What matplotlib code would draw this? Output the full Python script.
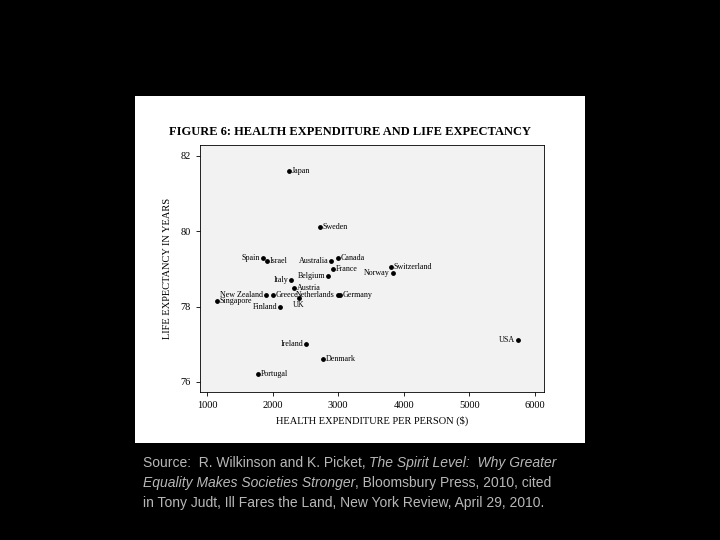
import matplotlib
matplotlib.use("Agg")
import matplotlib.pyplot as plt

countries = ["Japan","Sweden","Spain","Israel","Australia","Canada","France","Switzerland","Norway",
             "Belgium","Italy","Austria","New Zealand","Greece","Netherlands","Germany","UK","Singapore",
             "Finland","Ireland","Denmark","Portugal","USA"]
spend = [2250,2720,1850,1915,2890,3000,2920,3800,3830,2845,2280,2330,1900,2000,2990,3020,2400,1150,
         2110,2510,2770,1780,5740]
life = [81.6,80.1,79.3,79.2,79.2,79.3,79.0,79.05,78.9,78.8,78.7,78.5,78.3,78.3,78.3,78.3,78.23,78.15,
        78.0,77.0,76.6,76.2,77.1]
left_labels = {"Spain","Australia","Norway","Belgium","Italy","New Zealand","Finland","Ireland","USA","Netherlands"}
below_labels = {"UK"}
xticks = [1000,2000,3000,4000,5000,6000]
yticks = [76,78,80,82]

fig = plt.figure(figsize=(7.2,5.4), dpi=100, facecolor="black")
W, H = 720, 540
panel = fig.add_axes([135/W, 1-443/H, 450/W, 347/H])
panel.set_facecolor("white"); panel.set_xticks([]); panel.set_yticks([])
for s in panel.spines.values(): s.set_visible(False)

ax = fig.add_axes([200/W, 1-392/H, 344/W, 247/H])
ax.set_facecolor("#f2f2f2")
ax.scatter(spend, life, s=6, color="black", zorder=3)
for c, x, y in zip(countries, spend, life):
    if c in below_labels:
        ax.annotate(c, (x, y), xytext=(0,-2), textcoords="offset points", ha="center", va="top",
                    fontsize=5.8, family="Liberation Serif")
    elif c in left_labels:
        ax.annotate(c, (x, y), xytext=(-2,0), textcoords="offset points", ha="right", va="center",
                    fontsize=5.8, family="Liberation Serif")
    else:
        ax.annotate(c, (x, y), xytext=(2,0), textcoords="offset points", ha="left", va="center",
                    fontsize=5.8, family="Liberation Serif")
ax.set_xlim(893, 6137)
ax.set_ylim(75.73, 82.29)
ax.set_xticks(xticks); ax.set_yticks(yticks)
ax.tick_params(labelsize=7.5, length=3, width=0.6)
for lab in ax.get_xticklabels() + ax.get_yticklabels():
    lab.set_family("Liberation Serif")
for s in ax.spines.values(): s.set_linewidth(0.6)
ax.set_xlabel("HEALTH EXPENDITURE PER PERSON ($)", fontsize=7.5, family="Liberation Serif", labelpad=4)
ax.set_ylabel("LIFE EXPECTANCY IN YEARS", fontsize=7.5, family="Liberation Serif", labelpad=6)
fig.text(350/W, 1-132/H, "FIGURE 6: HEALTH EXPENDITURE AND LIFE EXPECTANCY", ha="center", va="center",
         fontsize=9, fontweight="bold", family="Liberation Serif")

# Source text with italic parts
lines = [
    [("Source:  R. Wilkinson and K. Picket, ", "normal"), ("The Spirit Level:  Why Greater", "italic")],
    [("Equality Makes Societies Stronger", "italic"), (", Bloomsbury Press, 2010, cited", "normal")],
    [("in Tony Judt, Ill Fares the Land, New York Review, April 29, 2010.", "normal")],
]
fig.canvas.draw()
r = fig.canvas.get_renderer()
ys = [463, 483, 503]
for line, yy in zip(lines, ys):
    xx = 143
    for txt, st in line:
        t = fig.text(xx/W, 1-yy/H, txt, fontsize=10, style=st, color="#b8b8b8",
                     family="Liberation Sans", va="center", ha="left")
        xx += t.get_window_extent(r).width
fig.savefig("out.png", dpi=100, facecolor="black")
